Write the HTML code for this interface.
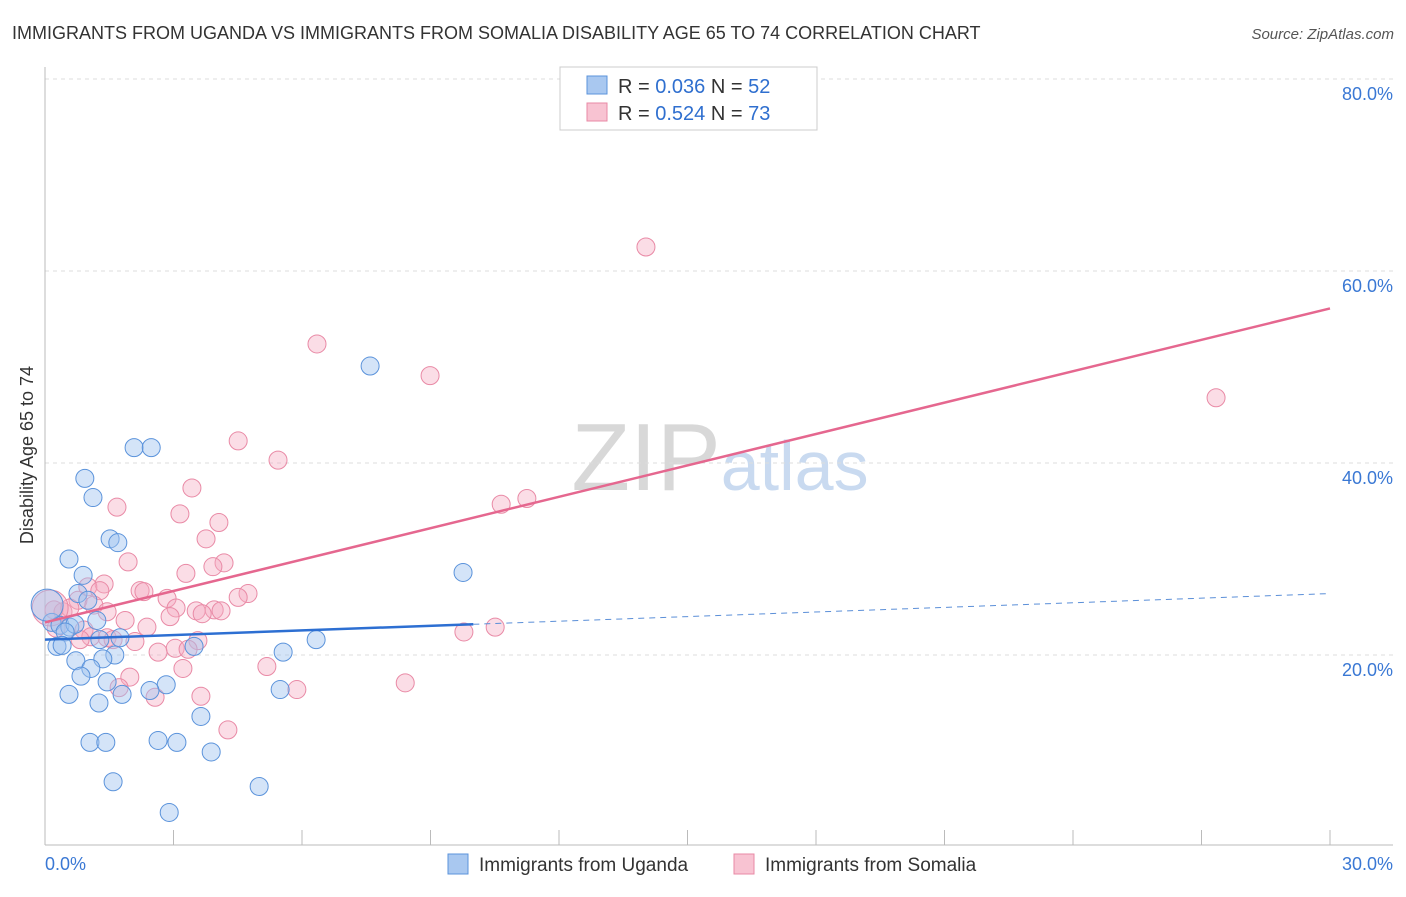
<!DOCTYPE html>
<html><head><meta charset="utf-8"><style>
body{margin:0;background:#fff;font-family:"Liberation Sans",sans-serif}
svg text{font-family:"Liberation Sans",sans-serif}
</style></head><body>
<svg id="chart" width="1406" height="892" xmlns="http://www.w3.org/2000/svg">
<text x="12" y="39" font-size="18" fill="#333">IMMIGRANTS FROM UGANDA VS IMMIGRANTS FROM SOMALIA DISABILITY AGE 65 TO 74 CORRELATION CHART</text>
<text x="1394" y="39" font-size="15" fill="#555" text-anchor="end" font-style="italic">Source: ZipAtlas.com</text>
<text x="720" y="490" font-size="96" text-anchor="middle" fill="#ddd" font-family="Liberation Serif"><tspan fill="#d8d8d8">ZIP</tspan><tspan fill="#c9daf0" font-family="Liberation Sans" font-size="70">atlas</tspan></text>
<g id="grid"></g><g id="axes"></g><g id="pts"></g><g id="lines"></g>
<text transform="translate(33,455) rotate(-90)" font-size="18" fill="#333" text-anchor="middle">Disability Age 65 to 74</text>
<g>
<rect x="560" y="67" width="257" height="63" fill="#fff" stroke="#ccc"/>
<rect x="587" y="76" width="20" height="18" fill="#a9c8f0" stroke="#5b93db"/>
<rect x="587" y="103" width="20" height="18" fill="#f8c3d2" stroke="#e88aa5"/>
<text x="618" y="93" font-size="20" fill="#333">R = <tspan fill="#2f6fcf">0.036</tspan>   N = <tspan fill="#2f6fcf">52</tspan></text>
<text x="618" y="120" font-size="20" fill="#333">R = <tspan fill="#2f6fcf">0.524</tspan>   N = <tspan fill="#2f6fcf">73</tspan></text>
</g>
<g>
<rect x="448" y="854" width="20" height="20" fill="#a9c8f0" stroke="#5b93db"/>
<text x="479" y="871" font-size="19" fill="#333">Immigrants from Uganda</text>
<rect x="734" y="854" width="20" height="20" fill="#f8c3d2" stroke="#e88aa5"/>
<text x="765" y="871" font-size="19" fill="#333">Immigrants from Somalia</text>
</g>
</svg>
<script>
const ugandaX=[7.59,2.08,2.48,0.93,1.12,1.52,1.70,0.56,9.76,0.89,0.77,1.00,1.21,0.16,0.35,0.58,0.70,0.47,6.33,1.28,1.75,0.28,0.40,3.48,5.56,1.63,1.35,0.72,1.07,0.84,1.45,2.83,2.45,0.56,1.80,5.49,1.26,3.64,1.05,1.42,2.64,3.08,3.88,1.59,5.00,2.90,0.05];
const ugandaY=[50.1,41.6,41.6,38.4,36.4,32.1,31.7,30.0,28.6,28.3,26.4,25.7,23.6,23.4,23.1,22.9,23.2,22.4,21.6,21.6,21.8,20.9,21.0,20.9,20.3,20.0,19.6,19.4,18.6,17.8,17.2,16.9,16.3,15.9,15.9,16.4,15.0,13.6,10.9,10.9,11.1,10.9,9.9,6.8,6.3,3.6,25.2];
const somaliaX=[14.03,6.35,8.99,27.34,4.51,5.44,11.25,10.65,3.43,1.68,3.15,4.06,3.76,1.94,4.18,3.92,3.29,1.38,1.00,2.22,2.31,1.28,4.74,4.51,2.85,0.77,1.14,3.06,0.21,0.42,0.58,1.45,3.95,3.53,3.67,4.11,2.92,1.87,2.38,0.26,9.78,10.51,0.91,1.07,1.45,1.59,3.57,2.10,0.82,3.04,3.34,2.64,3.22,5.18,1.98,8.41,5.88,1.73,2.57,3.64,4.27,0.12];
const somaliaY=[62.5,52.4,49.1,46.8,42.3,40.3,36.3,35.7,37.4,35.4,34.7,33.8,32.1,29.7,29.6,29.2,28.5,27.4,27.1,26.7,26.6,26.7,26.4,26.0,25.9,25.7,25.2,24.9,24.7,24.5,24.9,24.5,24.7,24.6,24.3,24.6,24.0,23.6,22.9,22.8,22.4,22.9,22.6,21.9,21.8,21.6,21.5,21.4,21.6,20.7,20.6,20.3,18.6,18.8,17.7,17.1,16.4,16.6,15.6,15.7,12.2,24.9];
const yTicks=[20,40,60,80];
const yTickLabels=["20.0%","40.0%","60.0%","80.0%"];
const xTicks=[0,3,6,9,12,15,18,21,24,27,30];
const ugandaTrend=[21.6,26.4]; // value at x=0 and x=30
const somaliaTrend=[23.4,56.1];
const sx=v=>45+v/30*1285, sy=v=>847-v/20*192;
const NS="http://www.w3.org/2000/svg";
function mk(t,a,p){const e=document.createElementNS(NS,t);for(const k in a)e.setAttribute(k,a[k]);p.appendChild(e);return e;}
const grid=document.getElementById('grid'),axes=document.getElementById('axes'),pts=document.getElementById('pts'),lines=document.getElementById('lines');
yTicks.forEach((t,i)=>{
 const l=mk('line',{x1:45,x2:1393,y1:sy(t),y2:sy(t),stroke:'#ddd','stroke-dasharray':'4,4'},grid);
 
 
 const tx=mk('text',{x:1393,y:sy(t)+21,'font-size':18,fill:'#3a78d4','text-anchor':'end'},axes);
 tx.textContent=yTickLabels[i];
 
 
});
const ax=mk('line',{x1:45,x2:45,y1:67,y2:845,stroke:'#bbb'},axes);


const bx=mk('line',{x1:45,x2:1393,y1:845,y2:845,stroke:'#bbb'},axes);


xTicks.forEach(t=>{
 const l=mk('line',{x1:sx(t),x2:sx(t),y1:830,y2:845,stroke:'#bbb'},axes);
 
 
});
[[xTicks[0],'start'],[xTicks[xTicks.length-1],'end']].forEach(([t,a])=>{
 const tx=mk('text',{x:a=='start'?sx(t):sx(t)+63,y:870,'font-size':18,fill:'#3a78d4','text-anchor':a},axes);
 tx.textContent=t.toFixed(1)+'%';
 
 
});
somaliaX.forEach((x,i)=>{
 const big=i==somaliaX.length-1;
 const c=mk('circle',{cx:sx(x),cy:sy(somaliaY[i]),r:big?18:9,fill:'rgba(246,170,192,0.4)',stroke:'#e98aa6','stroke-width':1},pts);
 
 
});
ugandaX.forEach((x,i)=>{
 const big=i==ugandaX.length-1;
 const c=mk('circle',{cx:sx(x),cy:sy(ugandaY[i]),r:big?16:9,fill:'rgba(160,196,240,0.45)',stroke:'#5b93db','stroke-width':1},pts);
 
 
});
const at=(tr,x)=>tr[0]+(tr[1]-tr[0])*x/30;
const bl=mk('line',{x1:sx(0),y1:sy(at(ugandaTrend,0)),x2:sx(10),y2:sy(at(ugandaTrend,10)),stroke:'#2d6fd2','stroke-width':2.5},lines);


const bd=mk('line',{x1:sx(10),y1:sy(at(ugandaTrend,10)),x2:sx(30),y2:sy(at(ugandaTrend,30)),stroke:'#5b8fd8','stroke-width':1,'stroke-dasharray':'6,5'},lines);


const pl=mk('line',{x1:sx(0),y1:sy(at(somaliaTrend,0)),x2:sx(30),y2:sy(at(somaliaTrend,30)),stroke:'#e5678f','stroke-width':2.5},lines);


</script>
</body></html>
